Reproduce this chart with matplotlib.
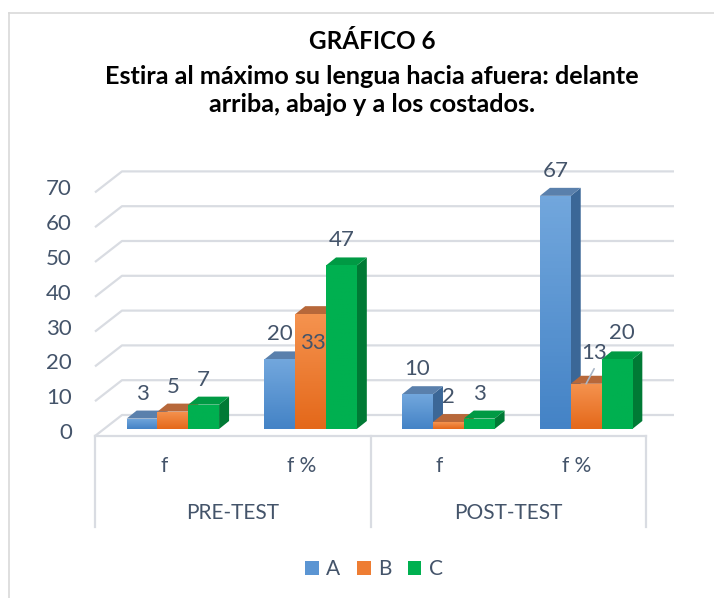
import numpy as np
import matplotlib
matplotlib.use('Agg')
import matplotlib.pyplot as plt
from matplotlib.patches import Polygon, Patch
from matplotlib.lines import Line2D
from matplotlib.colors import LinearSegmentedColormap

plt.rcParams['font.family'] = ['Lato', 'DejaVu Sans']

# Chart data
groups = ['PRE-TEST', 'POST-TEST']
measures = ['f', 'f %']
series = ['A', 'B', 'C']
vals_a = [3, 20, 10, 67]
vals_b = [5, 33, 2, 13]
vals_c = [7, 47, 3, 20]
y_ticks = [0, 10, 20, 30, 40, 50, 60, 70]

title_1 = 'GRÁFICO 6'
title_2 = 'Estira al máximo su lengua hacia afuera: delante'
title_3 = 'arriba, abajo y a los costados.'

# colours per series: front top, front bottom, side, top face
front_top = ['#72A7DD', '#F5934F', '#00B050']
front_bot = ['#4483C6', '#E4681A', '#00B050']
side_col = ['#3B6797', '#A9561F', '#007A35']
top_col = ['#5A80AC', '#B7683A', '#009A44']
text_col = '#44546A'
grid_col = '#D9DCE2'

W, H = 714, 598
fig = plt.figure(figsize=(W / 100, H / 100), dpi=100)


def box(x0, y0, x1, y1):
    # pixel box (origin top-left) -> figure fraction rect
    return [x0 / W, 1 - y1 / H, (x1 - x0) / W, (y1 - y0) / H]


# layout of the oblique 3d view, in pixels
PX_CAT = 137.75      # one category
PX_UNIT = 3.48       # one value unit
bar_w = 30.8 / PX_CAT
bar_dx, bar_dy = 10 / PX_CAT, 8 / PX_UNIT          # depth of a bar
floor_dx, floor_dy = 27 / PX_CAT, 21 / PX_UNIT      # depth of the floor
front_off = 7 / PX_UNIT                              # floor front below bar base

ax = fig.add_axes(box(95, 160, 674, 436))
ax.set_axis_off()
xl, xr = -9 / PX_CAT, (674 - 104) / PX_CAT
yb, yt = -front_off, (429 - 160) / PX_UNIT

# gridlines: front-left corner, back-left corner, back-right
for t in y_ticks:
    y0 = t - front_off
    y1 = y0 + floor_dy
    ax.plot([xl, xl + floor_dx, xr], [y0, y1, y1], color=grid_col, lw=1.6,
            solid_capstyle='butt', zorder=1, clip_on=False)
    ax.annotate(str(t), xy=(xl, t), xytext=(-23, -4), textcoords='offset pixels',
                ha='right', va='center', fontsize=16, color=text_col)

# bars
values = [vals_a, vals_b, vals_c]
label_shift = {(1, 1): (2, -29), (1, 3): (8, 31), (2, 3): (5, 26)}
z = 3.0
for g in range(4):
    for s in range(3):
        h = values[s][g]
        x0 = g + 0.5 + (s - 1.5) * bar_w
        side = Polygon([(x0 + bar_w, 0), (x0 + bar_w + bar_dx, bar_dy),
                        (x0 + bar_w + bar_dx, h + bar_dy), (x0 + bar_w, h)],
                       closed=True, facecolor=side_col[s], edgecolor='none', zorder=z)
        ax.add_patch(side)
        top = Polygon([(x0, h), (x0 + bar_w, h), (x0 + bar_w + bar_dx, h + bar_dy),
                       (x0 + bar_dx, h + bar_dy)],
                      closed=True, facecolor=top_col[s], edgecolor='none', zorder=z + 0.01)
        ax.add_patch(top)
        bar = ax.bar(x0, h, width=bar_w, align='edge', color=front_bot[s],
                     linewidth=0, zorder=z + 0.02)[0]
        cmap = LinearSegmentedColormap.from_list('g', [front_bot[s], front_top[s]])
        grad = np.linspace(0, 1, 64).reshape(-1, 1)
        im = ax.imshow(grad, extent=[x0, x0 + bar_w, 0, h], origin='lower',
                       aspect='auto', cmap=cmap, zorder=z + 0.03)
        im.set_clip_path(bar)
        dx, dy = label_shift.get((s, g), (0, 25))
        ax.annotate(str(h), xy=(x0 + bar_w / 2, h), xytext=(dx, dy),
                    textcoords='offset pixels', ha='center', va='center',
                    fontsize=16, color=text_col, zorder=20)
        z += 0.1

# leader line for the moved label "13"
ax.annotate('', xy=(3.5, vals_b[3]), xytext=(8, 15),
            textcoords='offset pixels',
            arrowprops=dict(arrowstyle='-', color='#A9B6C6', lw=1.2,
                            shrinkA=0, shrinkB=0), zorder=20)

ax.set_xlim(xl, xr)
ax.set_ylim(yb, yt)

# category axis box
axc = fig.add_axes(box(95, 436, 646, 527))
axc.set_axis_off()
axc.set_xlim(0, 4)
axc.set_ylim(0, 1)
axc.plot([0, 4], [1, 1], color=grid_col, lw=1.6, clip_on=False)
for xv in [0, 2, 4]:
    axc.plot([xv, xv], [0, 1], color=grid_col, lw=1.6, clip_on=False)
for i, m in enumerate(measures * len(groups)):
    axc.text(i + 0.5, (527 - 466) / 91, m, ha='center', va='center',
             fontsize=15, color=text_col)
for i, gname in enumerate(groups):
    axc.text(2 * i + 1, (527 - 513) / 91, gname, ha='center', va='center',
             fontsize=15, color=text_col)

# legend
handles = [Patch(facecolor=c, edgecolor='none') for c in ['#5B95D3', '#EE7D33', '#00B050']]
fig.legend(handles, series, loc='center', bbox_to_anchor=(374 / W, 1 - 569 / H),
           ncol=3, frameon=False, fontsize=15, labelcolor=text_col,
           handlelength=0.65, handleheight=0.65, handletextpad=0.35,
           columnspacing=0.8)

# titles
fig.text(372 / W, 1 - 49 / H, title_1, ha='center', va='baseline',
         fontsize=17.5, fontweight='bold', color='black')
fig.text(372 / W, 1 - 84 / H, title_2, ha='center', va='baseline',
         fontsize=18.2, fontweight='bold', color='black')
fig.text(372 / W, 1 - 112 / H, title_3, ha='center', va='baseline',
         fontsize=18.2, fontweight='bold', color='black')

# chart area border (only top and left edges fall inside the picture)
fig.add_artist(Line2D([9 / W, 1.0], [1 - 13 / H, 1 - 13 / H], color='#D9D9D9', lw=1.2))
fig.add_artist(Line2D([9 / W, 9 / W], [0.0, 1 - 13 / H], color='#D9D9D9', lw=1.2))

fig.savefig('out.png', dpi=100)
